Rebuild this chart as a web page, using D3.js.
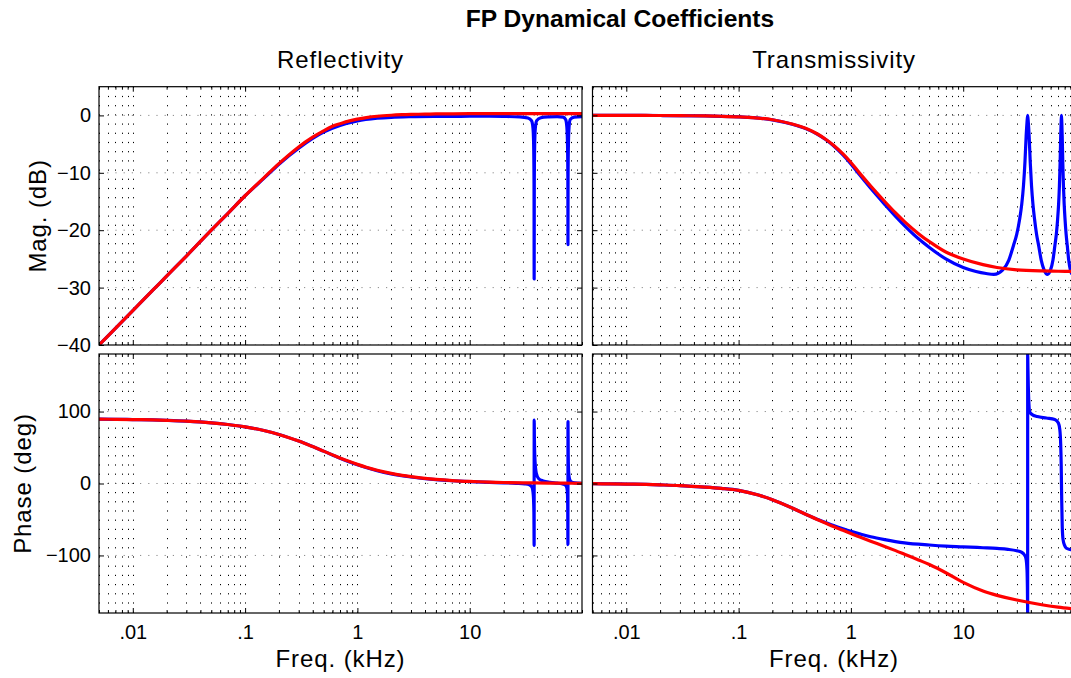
<!DOCTYPE html>
<html>
<head>
<meta charset="utf-8">
<script src="https://cdn.jsdelivr.net/npm/d3@7"></script>
<style>
  body { margin: 0; background: #fff; }
  svg { display: block; }
  text { font-family: "Liberation Sans", Arial, Helvetica, sans-serif; fill: #000; }
</style>
</head>
<body>
<svg id="chart" width="1071" height="678"></svg>
<script>
// ---- Frequency grid (kHz) of the single-pole approximation ----
const approxFreq = [0.005, 0.007, 0.01, 0.015, 0.02, 0.03, 0.05, 0.07, 0.1, 0.15, 0.2, 0.3, 0.4, 0.5, 0.6, 0.7,
  0.85, 1, 1.2, 1.5, 2, 2.5, 3, 4, 5, 7, 10, 15, 20, 30, 50, 70, 100];

// Reflectivity, approximation (red)
const reflMagApprox = [-40.0, -37.1, -34.0, -30.5, -28.0, -24.5, -20.0, -17.1, -14.0, -10.7, -8.4, -5.5, -3.8,
  -2.7, -1.9, -1.45, -0.95, -0.65, -0.38, -0.15, 0.03, 0.12, 0.17, 0.22, 0.25, 0.28, 0.3, 0.3, 0.3, 0.3, 0.3,
  0.3, 0.3];
const reflPhaseApprox = [89.4, 89.2, 88.9, 88.3, 87.7, 86.6, 84.3, 82.0, 78.7, 73.3, 68.2, 59.0, 51.3, 45.0,
  39.8, 35.5, 30.5, 26.6, 22.6, 18.4, 14.0, 11.3, 9.5, 7.1, 5.7, 4.1, 2.9, 1.9, 1.4, 1.0, 0.6, 0.4, 0.3];

// Transmissivity, approximation (red)
const transMagApprox = [0, 0, 0, -0.01, -0.02, -0.04, -0.1, -0.15, -0.25, -0.48, -0.75, -1.5, -2.3, -3.2, -4.2,
  -5.2, -6.7, -8.2, -10.1, -12.3, -15.0, -17.0, -18.5, -20.6, -22.0, -23.8, -25.0, -26.0, -26.5, -26.9, -27.1,
  -27.15, -27.2];
const transPhaseApprox = [-0.3, -0.5, -0.8, -1.3, -1.9, -2.9, -5, -6.8, -9.5, -16, -22.5, -34, -43, -50, -55.3,
  -59.8, -65, -69.5, -74.5, -80.3, -87.5, -93.3, -98.3, -106.3, -112.6, -124, -137.5, -149.5, -155.5, -162,
  -168.5, -171.8, -174.5];

// ---- Full cavity response (blue), with free-spectral-range resonances ----
const reflMagFreq = [0.005, 0.007, 0.01, 0.015, 0.02, 0.03, 0.05, 0.07, 0.1, 0.15, 0.2, 0.3, 0.5, 0.7, 1, 1.5, 2, 3,
  5, 7, 10, 15, 20, 28, 33, 35.5, 36.6, 37.1, 37.4, 37.5, 37.6, 37.9, 38.4, 39.5, 43, 50, 60, 68, 71.5, 73.3,
  74.3, 74.85, 75, 75.15, 75.7, 76.7, 78.5, 85, 100];
const reflMagExact = [-40.0, -37.1, -34.0, -30.5, -28.0, -24.5, -20.0, -17.1, -14.0, -10.8, -8.5, -5.7, -2.9, -1.75,
  -0.95, -0.5, -0.33, -0.22, -0.17, -0.16, -0.15, -0.15, -0.18, -0.25, -0.45, -0.9, -2.2, -5, -12, -28.5, -12, -5,
  -2.2, -0.9, -0.4, -0.25, -0.2, -0.3, -0.7, -2, -5, -11, -22.5, -11, -5, -2, -0.7, -0.3, -0.2];

const reflPhaseFreq = [0.005, 0.007, 0.01, 0.015, 0.02, 0.03, 0.05, 0.07, 0.1, 0.15, 0.2, 0.3, 0.5, 0.7, 1, 1.5, 2, 3,
  5, 7, 10, 15, 20, 26, 31, 34, 35.8, 36.8, 37.3, 37.48, 37.52, 37.7, 38.2, 39.2, 41, 45, 52, 60, 66, 70, 72.5,
  74, 74.6, 74.96, 75.04, 75.4, 76, 77.5, 80, 86, 100];
const reflPhaseExact = [89.4, 89.2, 88.9, 88.3, 87.7, 86.6, 84.3, 82.0, 78.7, 73.3, 68.2, 59.0, 45.0, 35.2, 26.0,
  17.8, 13.4, 9.0, 5.3, 3.8, 2.6, 1.6, 1.0, 0.3, -0.5, -1.8, -5, -15, -40, -86, 88, 60, 30, 14, 7, 3.5, 1.5, 0.5,
  -0.3, -1.5, -4, -10, -30, -85, 86, 40, 16, 6, 2.5, 0.8, 0.2];

const transMagFreq = [0.005, 0.01, 0.02, 0.05, 0.1, 0.2, 0.3, 0.4, 0.5, 0.6, 0.7, 0.85, 1, 1.2, 1.5, 2, 2.5, 3, 4, 5,
  7, 10, 13, 16, 18.75, 22.5, 25.5, 28, 30, 31.8, 33.2, 34.4, 35.5, 36.35, 37, 37.5, 38, 38.65, 39.5, 40.6, 41.8,
  43.2, 45, 47, 49.5, 52.5, 56.25, 60, 63, 65.5, 67.5, 69.3, 70.7, 71.9, 73, 73.85, 74.5, 75, 75.5, 76.15, 77,
  78.1, 79.3, 80.7, 82.5, 84.5, 87, 90, 93.75, 100];
const transMagExact = [0, 0, -0.02, -0.1, -0.25, -0.78, -1.55, -2.35, -3.25, -4.25, -5.3, -6.9, -8.45, -10.4,
  -12.7, -15.5, -17.6, -19.2, -21.5, -23.0, -25.0, -26.5, -27.2, -27.55, -27.7, -26.9, -25.2, -22.7, -20.7, -18.1,
  -15.5, -12.3, -8, -3.6, -1.2, 0, -1.2, -3.6, -8, -12.3, -15.5, -18.1, -20.7, -22.7, -25.2, -26.9, -27.7, -26.9,
  -25.2, -22.7, -20.7, -18.1, -15.5, -12.3, -8, -3.6, -1.2, 0, -1.2, -3.6, -8, -12.3, -15.5, -18.1, -20.7, -22.7,
  -25.2, -26.9, -27.7, -27.2];

const transPhaseFreq = [0.005, 0.007, 0.01, 0.015, 0.02, 0.03, 0.05, 0.07, 0.1, 0.15, 0.2, 0.3, 0.4, 0.5, 0.6, 0.7,
  0.85, 1, 1.2, 1.5, 2, 3, 5, 7, 10, 15, 20, 25, 30, 33, 35, 36.2, 37, 37.3, 37.45, 37.49, 37.51, 37.7, 38, 38.5,
  39, 41, 45.7, 55, 65.4, 70.4, 72.5, 73.8, 74.6, 75, 75.4, 76.2, 77.5, 80, 83, 91, 100];
const transPhaseExact = [-0.3, -0.5, -0.8, -1.3, -1.9, -2.9, -5, -6.8, -9.5, -16, -22.5, -34, -43, -49.7, -54.5,
  -58.5, -63, -66.5, -70, -74, -78, -82.5, -85.5, -87, -88, -89.3, -90.3, -91.5, -93.5, -95.5, -99, -104, -120,
  -145, -172, -179.9, 179.9, 160, 135, 110, 100, 96, 93, 91, 89, 84, 75, 55, 25, 0, -25, -60, -78, -86, -90, -92,
  -93];

// ---- Axis ticks and labels ----
const freqTicks = [0.01, 0.1, 1, 10];
const freqTickLabels = [".01", ".1", "1", "10"];
const magTicks = [-40, -30, -20, -10, 0];
const phaseTicks = [-100, 0, 100];

const titleText = "FP Dynamical Coefficients";
const columnTitles = ["Reflectivity", "Transmissivity"];
const rowLabels = ["Mag. (dB)", "Phase (deg)"];
const freqLabel = "Freq. (kHz)";

// ---- Layout ----
const svg = d3.select("#chart");
const FONT_TICK = 20, FONT_LABEL = 24, FONT_TITLE = 24.6;
const LABEL_SPACING = 0.9;
const BLUE = "#0000ff", RED = "#ff0000";

const cols = [{ x0: 99, x1: 582 }, { x0: 592.5, x1: 1075.5 }];
const rows = [
  { y0: 86.7, y1: 345, domain: [-40, 5], ticks: magTicks },
  { y0: 354, y1: 613, domain: [-180, 180], ticks: phaseTicks }
];

const fmtNum = v => (v < 0 ? "\u2212" + Math.abs(v) : String(v));

// every 1..9 x decade between the axis limits
const minorFreqs = [];
[0.001, 0.01, 0.1, 1, 10, 100].forEach(d => {
  for (let k = 1; k <= 9; k++) {
    const f = +(k * d).toPrecision(3);
    if (f >= 0.005 && f <= 100) minorFreqs.push(f);
  }
});
const minorOnly = minorFreqs.filter(f => !freqTicks.includes(f));

const panels = [
  { c: 0, r: 0, exact: [reflMagFreq, reflMagExact], approx: [approxFreq, reflMagApprox] },
  { c: 1, r: 0, exact: [transMagFreq, transMagExact], approx: [approxFreq, transMagApprox] },
  { c: 0, r: 1, exact: [reflPhaseFreq, reflPhaseExact], approx: [approxFreq, reflPhaseApprox] },
  { c: 1, r: 1, exact: [transPhaseFreq, transPhaseExact], approx: [approxFreq, transPhaseApprox] }
];

panels.forEach((p, i) => {
  const col = cols[p.c], row = rows[p.r];
  const x = d3.scaleLog().domain([0.005, 100]).range([col.x0, col.x1]);
  const y = d3.scaleLinear().domain(row.domain).range([row.y1, row.y0]);
  const g = svg.append("g");

  const clipId = "clip" + i;
  svg.append("clipPath").attr("id", clipId).append("rect")
    .attr("x", col.x0).attr("y", row.y0)
    .attr("width", col.x1 - col.x0).attr("height", row.y1 - row.y0);

  // dotted grid: every log-minor frequency vertically, major ticks horizontally
  const grid = g.append("g").attr("clip-path", `url(#${clipId})`);
  grid.selectAll("line.v").data(minorFreqs).join("line")
    .attr("x1", f => Math.round(x(f)) + 0.5).attr("x2", f => Math.round(x(f)) + 0.5)
    .attr("y1", row.y0).attr("y2", row.y1)
    .attr("stroke", "#000").attr("stroke-width", 1)
    .attr("stroke-dasharray", "1.2,8");
  grid.selectAll("line.h").data(row.ticks).join("line")
    .attr("x1", col.x0).attr("x2", col.x1)
    .attr("y1", v => y(v)).attr("y2", v => y(v))
    .attr("stroke", "#8a8a8a").attr("stroke-width", 1)
    .attr("stroke-dasharray", "1.2,7");

  // curves: full response first (sharp resonances), smooth approximation on top
  const exactLine = d3.line().x(d => x(d[0])).y(d => y(d[1])).curve(d3.curveMonotoneX);
  const approxLine = d3.line().x(d => x(d[0])).y(d => y(d[1])).curve(d3.curveCatmullRom.alpha(0.5));
  const curves = g.append("g").attr("clip-path", `url(#${clipId})`);
  [[p.exact, BLUE, exactLine], [p.approx, RED, approxLine]].forEach(([[fs, vs], color, gen]) => {
    curves.append("path")
      .datum(fs.map((f, j) => [f, vs[j]]))
      .attr("d", gen)
      .attr("fill", "none").attr("stroke", color)
      .attr("stroke-width", 3.2).attr("stroke-linejoin", "round").attr("stroke-linecap", "round");
  });

  // inward ticks on all four sides
  const tickStyle = sel => {
    sel.select(".domain").remove();
    sel.selectAll(".tick line").attr("stroke", "#000").attr("stroke-width", 1);
  };
  const bottom = g.append("g").attr("transform", `translate(0,${row.y1})`)
    .call(d3.axisBottom(x).tickValues(freqTicks).tickSize(-5).tickPadding(12)
      .tickFormat((d, j) => (p.r === 1 ? freqTickLabels[j] : "")));
  tickStyle(bottom);
  bottom.selectAll("text").attr("font-size", FONT_TICK).attr("font-family", null);
  g.append("g").attr("transform", `translate(0,${row.y1})`)
    .call(d3.axisBottom(x).tickValues(minorOnly).tickSize(-3).tickFormat(""))
    .call(tickStyle);
  g.append("g").attr("transform", `translate(0,${row.y0})`)
    .call(d3.axisTop(x).tickValues(freqTicks).tickSize(-5).tickFormat(""))
    .call(tickStyle);
  g.append("g").attr("transform", `translate(0,${row.y0})`)
    .call(d3.axisTop(x).tickValues(minorOnly).tickSize(-3).tickFormat(""))
    .call(tickStyle);

  const left = g.append("g").attr("transform", `translate(${col.x0},0)`)
    .call(d3.axisLeft(y).tickValues(row.ticks).tickSize(-5).tickPadding(8)
      .tickFormat(v => (p.c === 0 ? fmtNum(v) : "")));
  tickStyle(left);
  left.selectAll("text").attr("font-size", FONT_TICK).attr("font-family", null);
  g.append("g").attr("transform", `translate(${col.x1},0)`)
    .call(d3.axisRight(y).tickValues(row.ticks).tickSize(-5).tickFormat(""))
    .call(tickStyle);

  // axes box
  g.append("rect")
    .attr("x", col.x0).attr("y", row.y0)
    .attr("width", col.x1 - col.x0).attr("height", row.y1 - row.y0)
    .attr("fill", "none").attr("stroke", "#000").attr("stroke-width", 1.2);

  if (p.r === 0) {
    svg.append("text").attr("x", (col.x0 + col.x1) / 2).attr("y", 68)
      .attr("text-anchor", "middle").attr("font-size", FONT_LABEL)
      .attr("letter-spacing", LABEL_SPACING).text(columnTitles[p.c]);
  } else {
    svg.append("text").attr("x", (col.x0 + col.x1) / 2).attr("y", 667)
      .attr("text-anchor", "middle").attr("font-size", FONT_LABEL)
      .attr("letter-spacing", LABEL_SPACING).text(freqLabel);
  }
  if (p.c === 0) {
    const cy = (row.y0 + row.y1) / 2;
    const lx = p.r === 0 ? 46 : 31;
    svg.append("text").attr("transform", `translate(${lx},${cy}) rotate(-90)`)
      .attr("text-anchor", "middle").attr("font-size", FONT_LABEL)
      .attr("letter-spacing", LABEL_SPACING).text(rowLabels[p.r]);
  }
});

svg.append("text").attr("x", 620).attr("y", 27)
  .attr("text-anchor", "middle").attr("font-size", FONT_TITLE).attr("font-weight", "bold")
  .text(titleText);
</script>
</body>
</html>
